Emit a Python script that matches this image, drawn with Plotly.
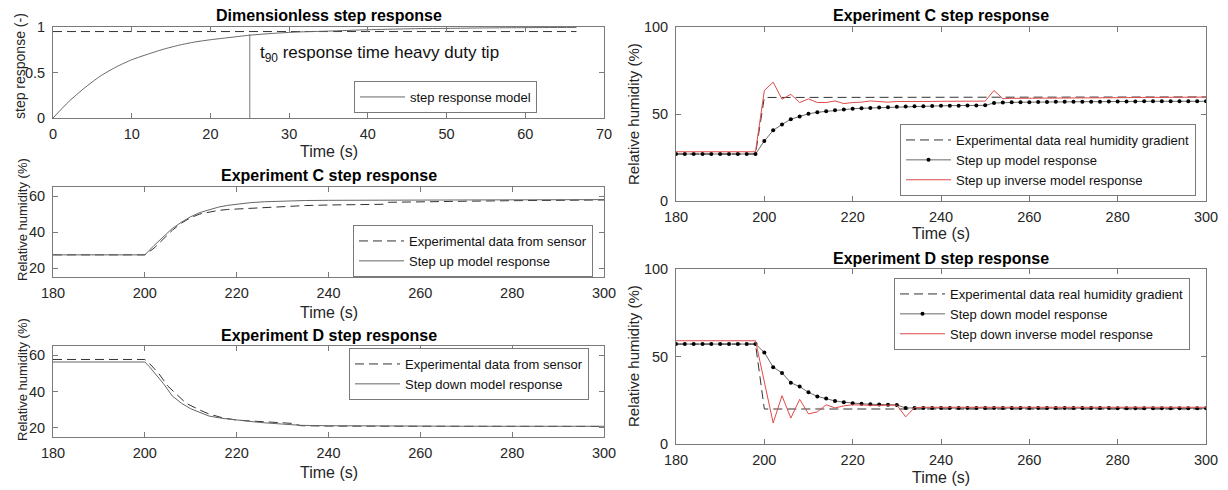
import plotly.graph_objects as go

W, H = 1228, 490
FONT = "Arial, Liberation Sans, sans-serif"

# ---------------- Data ----------------
# Dimensionless step response
t_dim = [0, 2, 4, 6, 8, 10, 12, 14, 16, 18, 20, 22, 25, 28, 31, 35, 40, 45, 50, 55, 60, 66.5]
step_resp = [0, 0.18, 0.33, 0.46, 0.56, 0.64, 0.70, 0.755, 0.80, 0.835, 0.86, 0.88, 0.91,
             0.93, 0.945, 0.955, 0.97, 0.98, 0.985, 0.99, 0.993, 0.995]
level_t = [0, 66.5]
level_val = [0.95, 0.95]
t90_x = [25, 25]
t90_y = [0, 0.92]

# Experiment C (left) – sensor data and step-up model
tC_sensor = [180, 200, 202, 204, 206, 208, 210, 212, 214, 216, 218, 220, 225, 230, 235, 240,
             245, 250, 252, 253, 260, 270, 280, 290, 300]
C_sensor = [27.3, 27.3, 31, 36, 41, 45, 48, 50, 51.2, 52, 52.5, 52.8, 53.6, 54.3, 54.7, 55.0,
            55.2, 55.3, 55.4, 56.5, 56.9, 57.1, 57.4, 57.6, 57.8]
tC_model = [180, 200, 202, 204, 206, 208, 210, 212, 214, 216, 218, 220, 223, 226, 230, 235,
            240, 250, 260, 280, 300]
C_model_left = [27.3, 27.3, 32.5, 37.5, 42, 45.5, 48.5, 50.8, 52.5, 53.8, 54.8, 55.5, 56.3,
                56.8, 57.2, 57.5, 57.6, 57.7, 57.8, 57.9, 58.0]

# Experiment D (left) – sensor data and step-down model
tD_sensor = [180, 200, 201, 203, 205, 207, 209, 212, 214, 217, 220, 223, 227, 232, 234, 240,
             260, 280, 300]
D_sensor = [57.6, 57.6, 55.4, 50, 43, 38, 33.5, 29.8, 27.6, 25.5, 24.3, 23.8, 23.4, 22.5, 21.2,
            21.0, 20.9, 20.9, 20.8]
tD_model = [180, 200, 201, 202, 204, 206, 208, 210, 212, 214, 217, 220, 225, 230, 234, 240,
            250, 270, 300]
D_model_left = [56.2, 56.2, 53.6, 50.5, 44.5, 37.5, 33.5, 30.5, 28.3, 26.5, 25.2, 24.3, 23.0,
                22.1, 21.4, 21.2, 21.0, 20.9, 20.9]

# Right panels: 2 s sampling grid 180..300
t_grid = list(range(180, 302, 2))

C_real = [27.0, 27.0, 27.0, 27.0, 27.0, 27.0, 27.0, 27.0, 27.0, 27.0,
          59.5, 59.5, 59.5, 59.5, 59.5, 59.5, 59.5, 59.5, 59.5, 59.5,
          59.5, 59.5, 59.5, 59.5, 59.5, 59.5, 59.5, 59.5, 59.5, 59.5,
          59.5, 59.5, 59.5, 59.5, 59.5, 59.5, 59.5, 59.5, 59.5, 59.5,
          59.6, 59.6, 59.6, 59.6, 59.6, 59.6, 59.6, 59.6, 59.6, 59.6,
          59.7, 59.7, 59.7, 59.7, 59.7, 59.7, 59.7, 59.7, 59.7, 59.7,
          59.8]
C_model = [27.0, 27.0, 27.0, 27.0, 27.0, 27.0, 27.0, 27.0, 27.0, 27.0,
           34.5, 40.6, 44.0, 47.0, 48.6, 50.1, 51.0, 51.6, 52.2, 52.6,
           53.0, 53.3, 53.5, 53.7, 53.9, 54.1, 54.3, 54.4, 54.5, 54.6,
           54.7, 54.8, 54.8, 54.9, 54.9, 55.0, 56.3, 56.6, 56.7, 56.8,
           56.8, 56.9, 56.9, 57.0, 57.0, 57.0, 57.1, 57.1, 57.1, 57.2,
           57.2, 57.2, 57.2, 57.3, 57.3, 57.3, 57.3, 57.3, 57.3, 57.3,
           57.3]
C_inverse = [28.3, 28.3, 28.3, 28.3, 28.3, 28.3, 28.3, 28.3, 28.3, 28.3,
             63.5, 68.3, 58.5, 61.3, 56.6, 58.7, 56.6, 56.6, 57.5, 56.0,
             56.6, 56.8, 57.5, 57.3, 56.8, 57.2, 57.1, 57.2, 57.3, 57.2,
             57.3, 57.3, 57.3, 57.4, 57.4, 57.4, 63.5, 58.8, 59.0, 59.0,
             59.1, 59.1, 59.1, 59.2, 59.2, 59.2, 59.3, 59.3, 59.3, 59.4,
             59.4, 59.4, 59.5, 59.5, 59.5, 59.5, 59.6, 59.6, 59.6, 59.6,
             59.7]

D_real = [57.1, 57.1, 57.1, 57.1, 57.1, 57.1, 57.1, 57.1, 57.1, 57.1,
          20.0, 20.0, 20.0, 20.0, 20.0, 20.0, 20.0, 20.0, 20.0, 20.0,
          20.0, 20.0, 20.0, 20.0, 20.0, 20.0, 20.0, 20.0, 20.0, 20.0,
          20.0, 20.0, 20.0, 20.0, 20.0, 20.0, 20.0, 20.0, 20.0, 20.0,
          20.0, 20.0, 20.0, 20.0, 20.0, 20.0, 20.0, 20.0, 20.0, 20.0,
          20.0, 20.0, 20.0, 20.0, 20.0, 20.0, 20.0, 20.0, 20.0, 20.0,
          20.0]
D_model = [57.1, 57.1, 57.1, 57.1, 57.1, 57.1, 57.1, 57.1, 57.1, 57.1,
           52.3, 43.9, 40.6, 35.0, 32.8, 29.5, 27.2, 26.0, 24.6, 23.9,
           23.3, 23.0, 22.7, 22.5, 22.4, 22.3, 20.6, 20.5, 20.5, 20.5,
           20.5, 20.5, 20.5, 20.5, 20.5, 20.5, 20.5, 20.5, 20.5, 20.5,
           20.5, 20.5, 20.5, 20.5, 20.5, 20.5, 20.5, 20.5, 20.5, 20.5,
           20.4, 20.4, 20.4, 20.4, 20.4, 20.4, 20.4, 20.4, 20.4, 20.4,
           20.4]
D_inverse = [59.0, 59.0, 59.0, 59.0, 59.0, 59.0, 59.0, 59.0, 59.0, 59.0,
             35.5, 12.0, 27.6, 14.8, 25.5, 17.2, 18.4, 22.4, 20.6, 21.8,
             22.4, 22.2, 21.9, 22.0, 22.2, 22.2, 15.5, 20.8, 21.0, 21.0,
             21.0, 21.0, 21.0, 21.0, 21.0, 21.0, 21.0, 21.0, 21.0, 21.0,
             21.0, 21.0, 21.0, 21.0, 21.0, 21.0, 21.0, 21.0, 21.0, 21.0,
             21.0, 21.0, 21.0, 21.0, 21.0, 21.0, 21.0, 21.0, 21.0, 21.0,
             21.0]

x_ticks_dim = [0, 10, 20, 30, 40, 50, 60, 70]
x_ticks_t = [180, 200, 220, 240, 260, 280, 300]

# ---------------- Layout helpers ----------------
def fx(px):
    return px / W

def fy(py):
    return 1 - py / H

AX_COL = "#7a7a7a"
DASH = "9px,5px"

def axstyle(**kw):
    d = dict(showline=True, linecolor=AX_COL, linewidth=1, mirror="allticks",
             ticks="inside", ticklen=5, tickcolor=AX_COL, tickwidth=1,
             showgrid=False, zeroline=False, fixedrange=True, automargin=False,
             tickfont=dict(family=FONT, size=14.5, color="#262626"))
    d.update(kw)
    return d

boxes = {
    1: (53, 604, 27, 118),
    2: (53, 604, 187, 277),
    3: (53, 604, 346, 437),
    4: (676, 1206, 27, 201),
    5: (676, 1206, 269, 444),
}

fig = go.Figure()

# Panel 1
fig.add_trace(go.Scatter(x=level_t, y=level_val, mode="lines", xaxis="x", yaxis="y",
                         line=dict(color="#333333", width=1, dash=DASH), showlegend=False))
fig.add_trace(go.Scatter(x=t90_x, y=t90_y, mode="lines", xaxis="x", yaxis="y",
                         line=dict(color="#777777", width=1), showlegend=False))
fig.add_trace(go.Scatter(x=t_dim, y=step_resp, mode="lines", xaxis="x", yaxis="y",
                         line=dict(color="#666666", width=1, shape="spline", smoothing=0.6),
                         name="step response model", legend="legend"))

# Panel 2
fig.add_trace(go.Scatter(x=tC_sensor, y=C_sensor, mode="lines", xaxis="x2", yaxis="y2",
                         line=dict(color="#333333", width=1, dash=DASH),
                         name="Experimental data from sensor", legend="legend2"))
fig.add_trace(go.Scatter(x=tC_model, y=C_model_left, mode="lines", xaxis="x2", yaxis="y2",
                         line=dict(color="#666666", width=1),
                         name="Step up model response", legend="legend2"))

# Panel 3
fig.add_trace(go.Scatter(x=tD_sensor, y=D_sensor, mode="lines", xaxis="x3", yaxis="y3",
                         line=dict(color="#333333", width=1, dash=DASH),
                         name="Experimental data from sensor", legend="legend3"))
fig.add_trace(go.Scatter(x=tD_model, y=D_model_left, mode="lines", xaxis="x3", yaxis="y3",
                         line=dict(color="#666666", width=1),
                         name="Step down model response", legend="legend3"))

# Panel 4
fig.add_trace(go.Scatter(x=t_grid, y=C_real, mode="lines", xaxis="x4", yaxis="y4",
                         line=dict(color="#333333", width=1, dash=DASH),
                         name="Experimental data real humidity gradient", legend="legend4"))
fig.add_trace(go.Scatter(x=t_grid, y=C_model, mode="lines+markers", xaxis="x4", yaxis="y4",
                         line=dict(color="#444444", width=0.8),
                         marker=dict(color="#000000", size=4),
                         name="Step up model response", legend="legend4"))
fig.add_trace(go.Scatter(x=t_grid, y=C_inverse, mode="lines", xaxis="x4", yaxis="y4",
                         line=dict(color="#e04a4a", width=1),
                         name="Step up inverse model response", legend="legend4"))

# Panel 5
fig.add_trace(go.Scatter(x=t_grid, y=D_real, mode="lines", xaxis="x5", yaxis="y5",
                         line=dict(color="#333333", width=1, dash=DASH),
                         name="Experimental data real humidity gradient", legend="legend5"))
fig.add_trace(go.Scatter(x=t_grid, y=D_model, mode="lines+markers", xaxis="x5", yaxis="y5",
                         line=dict(color="#444444", width=0.8),
                         marker=dict(color="#000000", size=4),
                         name="Step down model response", legend="legend5"))
fig.add_trace(go.Scatter(x=t_grid, y=D_inverse, mode="lines", xaxis="x5", yaxis="y5",
                         line=dict(color="#e04a4a", width=1),
                         name="Step down inverse model response", legend="legend5"))

layout = dict(template="none", width=W, height=H,
              margin=dict(l=0, r=0, t=0, b=0, pad=0, autoexpand=False),
              paper_bgcolor="white", plot_bgcolor="white", showlegend=True,
              font=dict(family=FONT, color="#262626"), hovermode=False)

ranges = {
    1: ([0, 70], x_ticks_dim, [0, 1], [0, 0.5, 1]),
    2: ([180, 300], x_ticks_t, [15, 65], [20, 40, 60]),
    3: ([180, 300], x_ticks_t, [15, 65], [20, 40, 60]),
    4: ([180, 300], x_ticks_t, [0, 100], [0, 50, 100]),
    5: ([180, 300], x_ticks_t, [0, 100], [0, 50, 100]),
}
for i, (x0, x1, y0, y1) in boxes.items():
    xr, xt, yr, yt = ranges[i]
    sfx = "" if i == 1 else str(i)
    layout["xaxis" + sfx] = axstyle(domain=[fx(x0), fx(x1)], range=xr, tickvals=xt,
                                    anchor="y" + sfx, ticklabelstandoff=3)
    layout["yaxis" + sfx] = axstyle(domain=[fy(y1), fy(y0)], range=yr, tickvals=yt,
                                    anchor="x" + sfx, ticklabelstandoff=4)

def legend_cfg(left_px, top_px):
    return dict(x=fx(left_px), y=fy(top_px), xanchor="left", yanchor="top",
                xref="paper", yref="paper",
                bgcolor="white", bordercolor=AX_COL, borderwidth=1,
                font=dict(family=FONT, size=13, color="#111111"), itemwidth=45,
                tracegroupgap=0)

layout["legend"] = legend_cfg(354, 81)
layout["legend2"] = legend_cfg(353, 225)
layout["legend3"] = legend_cfg(349, 348)
layout["legend4"] = legend_cfg(900, 124)
layout["legend5"] = legend_cfg(894, 278)

ann = []
def text(xp, yp, s, size, bold=False, angle=0):
    ann.append(dict(x=fx(xp), y=fy(yp), xref="paper", yref="paper", showarrow=False,
                    text=("<b>%s</b>" % s) if bold else s, textangle=angle,
                    xanchor="center", yanchor="middle",
                    font=dict(family=FONT, size=size, color="#000000" if bold else "#262626")))

# titles
text(328.5, 15, "Dimensionless step response", 16, bold=True)
text(328.5, 175, "Experiment C step response", 16, bold=True)
text(328.5, 335, "Experiment D step response", 16, bold=True)
text(941, 15, "Experiment C step response", 16, bold=True)
text(941, 258, "Experiment D step response", 16, bold=True)
# x labels
for xp, yp in [(328.5, 152), (328.5, 312), (328.5, 472), (941, 234), (941, 477)]:
    text(xp, yp, "Time (s)", 16)
# y labels
text(20, 66, "step response (-)", 14, angle=-90)
text(22, 220, "Relative humidity (%)", 13, angle=-90)
text(22, 380, "Relative humidity (%)", 13, angle=-90)
text(633, 114, "Relative humidity (%)", 15, angle=-90)
text(633, 356, "Relative humidity (%)", 15, angle=-90)

ann.append(dict(x=26, y=0.70, xref="x", yref="y", showarrow=False, xanchor="left",
                yanchor="middle", text="t<sub>90</sub> response time heavy duty tip",
                font=dict(family=FONT, size=17, color="#111111")))
layout["annotations"] = ann

fig.update_layout(**layout)
fig.write_html("out.html",
               config={"displayModeBar": False, "staticPlot": True},
               post_script="document.body.style.margin='0px';"
                           "document.body.style.overflow='hidden';")
